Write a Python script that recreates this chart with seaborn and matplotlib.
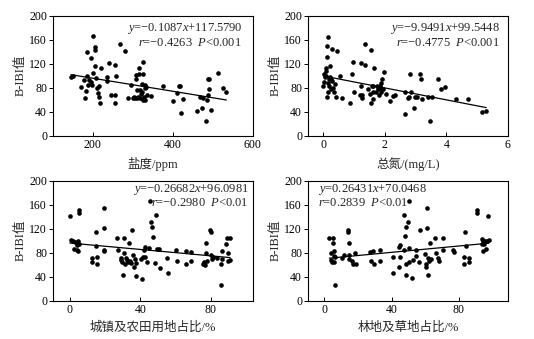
import numpy as np
import pandas as pd
import matplotlib
matplotlib.use("Agg")
import matplotlib.pyplot as plt
import seaborn as sns

# ---------------- data ----------------
sal_x = [146, 152, 172, 179, 182, 183, 187, 187, 189, 192, 195, 197, 199, 201, 202, 206, 206, 206,
         208, 211, 213, 215, 216, 218, 222, 235, 236, 241, 247, 255, 255, 257, 259, 268, 280, 289,
         295, 300, 303, 306, 309, 309, 311, 311, 313, 315, 316, 318, 319, 322, 324, 324, 326, 326,
         327, 329, 330, 330, 332, 333, 335, 345, 375, 401, 410, 415, 418, 422, 426, 460, 468, 472,
         476, 484, 485, 487, 488, 491, 491, 495, 512, 525, 534]
sal_y = [97, 99, 81, 92, 63, 74, 100, 140, 84, 92, 89, 130, 84, 104, 166, 148, 143, 116,
         96, 79, 71, 83, 65, 54, 112, 91, 98, 121, 68, 68, 54, 117, 99, 153, 141, 63,
         84, 63, 65, 62, 101, 94, 62, 76, 65, 103, 112, 62, 76, 69, 72, 86, 102, 123,
         59, 65, 79, 84, 59, 81, 68, 66, 83, 58, 71, 83, 83, 37, 61, 41, 65, 46,
         63, 25, 59, 68, 94, 94, 77, 42, 105, 80, 72]

tn_x = [0.00, 0.01, 0.03, 0.05, 0.08, 0.09, 0.10, 0.11, 0.12, 0.13, 0.14, 0.15, 0.16, 0.17, 0.18,
        0.21, 0.22, 0.24, 0.25, 0.27, 0.29, 0.32, 0.36, 0.38, 0.40, 0.45, 0.55, 0.62, 0.87, 0.92,
        0.98, 0.99, 1.18, 1.23, 1.22, 1.25, 1.27, 1.36, 1.37, 1.45, 1.52, 1.54, 1.55, 1.58, 1.60,
        1.61, 1.63, 1.65, 1.72, 1.75, 1.79, 1.82, 1.84, 1.86, 1.88, 1.89, 1.92, 1.93, 1.98, 2.03,
        2.17, 2.26, 2.32, 2.66, 2.67, 2.74, 2.77, 2.82, 2.85, 2.95, 2.97, 3.04, 3.15, 3.18, 3.21,
        3.39, 3.47, 3.53, 3.73, 3.82, 3.95, 4.32, 4.70, 5.15, 5.30]
tn_y = [82, 90, 103, 97, 99, 107, 112, 64, 149, 131, 88, 165, 72, 94, 83,
        116, 97, 77, 94, 91, 145, 79, 72, 86, 65, 141, 99, 63, 54, 102,
        123, 73, 68, 121, 83, 68, 63, 117, 153, 77, 69, 142, 54, 82, 61,
        72, 83, 113, 72, 83, 77, 68, 83, 72, 79, 88, 94, 77, 106, 69,
        58, 66, 67, 36, 72, 63, 64, 103, 72, 46, 64, 64, 103, 94, 61,
        65, 25, 64, 95, 77, 81, 61, 61, 40, 41]

urb_x = [0.0, 0.4, 1.9, 2.3, 2.8, 3.8, 4.2, 4.3, 4.7, 4.9, 5.1, 4.7, 5.3, 12.3, 12.5, 14.7, 15.1,
         15.5, 15.5, 19.2, 19.2, 19.2, 19.4, 27.0, 27.2, 28.9, 28.9, 29.8, 30.2, 30.6, 30.9, 31.1,
         32.1, 32.6, 33.2, 33.6, 34.0, 34.7, 35.1, 35.8, 36.2, 37.0, 37.4, 37.7, 40.6, 41.1, 41.5,
         41.9, 42.5, 42.8, 44.0, 44.9, 45.7, 45.8, 46.8, 47.2, 48.1, 49.1, 49.6, 50.6, 51.1, 55.3,
         55.7, 60.4, 60.8, 65.7, 66.0, 68.5, 68.7, 75.8, 76.0, 76.4, 77.0, 77.4, 77.7, 79.6, 79.8,
         80.2, 80.6, 81.1, 83.4, 85.5, 85.8, 86.4, 86.4, 88.7, 89.2, 89.8, 89.8, 90.6, 90.9]
urb_y = [142, 101, 99, 86, 98, 97, 93, 84, 99, 151, 146, 83, 94, 72, 64, 115, 92,
         73, 61, 155, 122, 84, 83, 104, 84, 72, 68, 64, 43, 105, 79, 61,
         71, 68, 64, 96, 66, 63, 118, 77, 57, 69, 63, 42, 69, 37, 73,
         84, 90, 73, 65, 88, 166, 132, 123, 107, 63, 143, 86, 87, 55, 72,
         47, 84, 66, 83, 62, 81, 66, 62, 64, 59, 79, 96, 66, 118, 115,
         76, 69, 73, 72, 62, 27, 69, 83, 94, 105, 79, 66, 105, 68]

for_x = [3.0, 3.8, 4.0, 4.4, 4.9, 5.1, 5.5, 5.9, 6.1, 5.9, 6.3, 10.7, 11.5, 14.1, 14.3, 14.5, 14.7,
         14.9, 16.6, 17.0, 18.2, 18.6, 27.1, 27.5, 29.1, 29.5, 33.1, 33.3, 40.8, 40.8, 44.4, 44.6,
         44.8, 44.8, 47.1, 47.5, 48.1, 48.3, 48.5, 48.5, 49.9, 50.3, 50.3, 50.5, 51.9, 52.5, 54.5,
         54.7, 56.4, 57.0, 59.8, 60.2, 60.4, 61.0, 61.0, 61.4, 61.8, 62.0, 63.0, 63.4, 65.7, 66.3,
         67.7, 67.9, 70.3, 70.5, 76.6, 76.8, 83.0, 83.0, 83.6, 84.0, 86.0, 86.0, 90.5, 90.7, 93.9,
         93.9, 94.1, 94.5, 95.0, 95.4, 95.8, 96.6, 97.4, 97.8]
for_y = [105, 68, 79, 64, 96, 105, 83, 75, 27, 64, 73, 72, 76, 118, 114, 97, 76,
         69, 66, 62, 79, 61, 81, 66, 83, 62, 84, 67, 73, 47, 57, 89,
         93, 73, 143, 84, 108, 123, 62, 43, 132, 166, 88, 65, 38, 68, 74,
         84, 65, 118, 78, 57, 62, 155, 122, 43, 72, 66, 97, 69, 105, 80,
         72, 67, 104, 85, 84, 82, 61, 73, 115, 92, 72, 64, 151, 146, 103,
         94, 83, 99, 94, 99, 87, 99, 142, 101]

panels = [
    dict(x=sal_x, y=sal_y, xlabel="盐度/ppm", xlim=(102, 600), xticks=[200, 400, 600],
         slope=-0.1087, icpt=117.5790,
         eq=r"$y$=−0.1087$x$+117.5790", rr=r"$r$=−0.4263  $P$<0.001",
         ha="right", tx=0.945, ty=(0.895, 0.77)),
    dict(x=tn_x, y=tn_y, xlabel="总氮/(mg/L)", xlim=(-0.49, 6.0), xticks=[0, 2, 4, 6],
         slope=-9.9491, icpt=99.5448,
         eq=r"$y$=−9.9491$x$+99.5448", rr=r"$r$=−0.4775  $P$<0.001",
         ha="right", tx=0.96, ty=(0.895, 0.77)),
    dict(x=urb_x, y=urb_y, xlabel="城镇及农田用地占比/%", xlim=(-9.4, 103.8), xticks=[0, 40, 80],
         slope=-0.26682, icpt=96.0981,
         eq=r"$y$=−0.26682$x$+96.0981", rr=r"$r$=−0.2980  $P$<0.01",
         ha="right", tx=0.98, ty=(0.93, 0.815)),
    dict(x=for_x, y=for_y, xlabel="林地及草地占比/%", xlim=(-9.5, 109.0), xticks=[0, 40, 80],
         slope=0.26431, icpt=70.0468,
         eq=r"$y$=0.26431$x$+70.0468", rr=r"$r$=0.2839  $P$<0.01",
         ha="left", tx=0.05, ty=(0.93, 0.815)),
]

# ---------------- style ----------------
sns.set_theme(style="ticks")
plt.rcParams["font.family"] = ["Liberation Serif", "Noto Sans CJK SC"]
plt.rcParams["mathtext.fontset"] = "custom"
plt.rcParams["mathtext.rm"] = "Liberation Serif"
plt.rcParams["mathtext.it"] = "Liberation Serif:italic"
plt.rcParams["axes.unicode_minus"] = True

fig = plt.figure(figsize=(5.34, 3.39), dpi=100)
W, H = 534, 339
boxes = [(53.3, 15.7), (308.3, 15.7), (53.3, 180.7), (308.3, 180.7)]
aw, ah = 199.5, 120.0

for p, (lx, ty) in zip(panels, boxes):
    ax = fig.add_axes([lx / W, 1 - (ty + ah) / H, aw / W, ah / H])
    df = pd.DataFrame({"x": p["x"], "y": p["y"]})
    sns.scatterplot(data=df, x="x", y="y", ax=ax, color="black", s=11, linewidth=0, legend=False)
    xs = np.array([min(p["x"]), max(p["x"])])
    sns.lineplot(x=xs, y=p["slope"] * xs + p["icpt"], ax=ax, color="black", linewidth=0.9)
    ax.set_xlim(*p["xlim"])
    ax.set_ylim(0, 200)
    ax.set_xticks(p["xticks"])
    ax.set_yticks([0, 40, 80, 120, 160, 200])
    ax.set_xlabel(p["xlabel"], fontsize=9, labelpad=4)
    ax.set_ylabel("B-IBI值", fontsize=9, labelpad=2)
    ax.tick_params(axis="x", direction="in", length=3, width=0.7, labelsize=8.5, pad=2.5, colors="black")
    ax.tick_params(axis="y", direction="out", length=3, width=0.7, labelsize=8.5, pad=1.5, colors="black")
    for s in ax.spines.values():
        s.set_visible(True)
        s.set_linewidth(0.8)
        s.set_color("black")
    ax.text(p["tx"], p["ty"][0], p["eq"], transform=ax.transAxes, ha=p["ha"], va="center", fontsize=9)
    ax.text(p["tx"], p["ty"][1], p["rr"], transform=ax.transAxes, ha=p["ha"], va="center", fontsize=9)

fig.savefig("out.png", dpi=100, facecolor="white")
